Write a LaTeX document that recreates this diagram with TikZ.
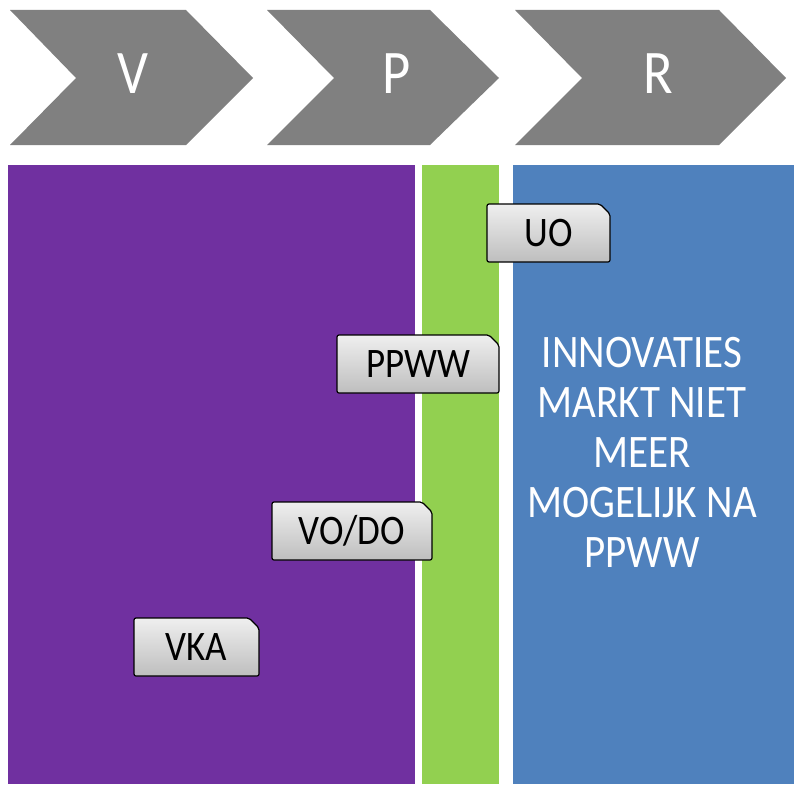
\documentclass[tikz,border=0pt]{standalone}
\usepackage{fontspec}
\setmainfont{Carlito}[FakeStretch=0.88]

\definecolor{chevgray}{HTML}{808080}
\definecolor{vpurple}{HTML}{7030A0}
\definecolor{pgreen}{HTML}{92D050}
\definecolor{rblue}{HTML}{4F81BD}
\definecolor{tagtop}{HTML}{EFEFEF}
\definecolor{tagbot}{HTML}{BEBEBE}

\tikzset{
  chev/.style={fill=chevgray},
  chevtext/.style={text=white, inner sep=0pt, font=\fontsize{62}{62}\selectfont},
  tagshape/.style={draw=black, line width=1.2pt, rounded corners=2pt,
    top color=tagtop, bottom color=tagbot},
  tagtext/.style={text=black, inner sep=0pt, font=\fontsize{42}{42}\selectfont},
  notetext/.style={text=white, align=center, inner sep=0pt,
    font=\fontsize{46.6}{50}\selectfont},
}

% name, left, top, right, bottom, text
\newcommand{\tagbox}[6]{%
  \shade[tagshape] (#2,#5) -- (#2,#3) -- (#4-10,#3) -- (#4,#3+10) -- (#4,#5) -- cycle;
  \node[tagtext] (#1) at ({(#2+#4)/2},{(#3+#5)/2}) {#6};
}

\begin{document}
\begin{tikzpicture}[x=1pt, y=-1pt]
  \useasboundingbox (0,0) rectangle (794,784);

  % phases
  \foreach \a/\b/\c/\d/\t/\m in {10/76/186/253/V/133, 267/334/430/499/P/397, 515/582/719/786/R/658} {
    \fill[chev] (\a,10) -- (\c,10) -- (\d,78) -- (\c,145) -- (\a,145) -- (\b,78) -- cycle;
    \node[chevtext] (chev\t) at (\m,74) {\t};
  }

  % columns
  \fill[vpurple] (8,165) rectangle (415,784);
  \fill[pgreen] (422,165) rectangle (499,784);
  \fill[rblue] (513,165) rectangle (794,784);

  \node[notetext] (note) at (642,452) {INNOVATIES\\MARKT NIET\\MEER\\MOGELIJK NA\\PPWW};

  % milestones
  \tagbox{uo}{487}{204}{610}{262}{UO}
  \tagbox{ppww}{337}{335}{499}{393}{PPWW}
  \tagbox{vodo}{272}{502}{432}{560}{VO/DO}
  \tagbox{vka}{134}{618}{259}{676}{VKA}
\end{tikzpicture}
\end{document}
